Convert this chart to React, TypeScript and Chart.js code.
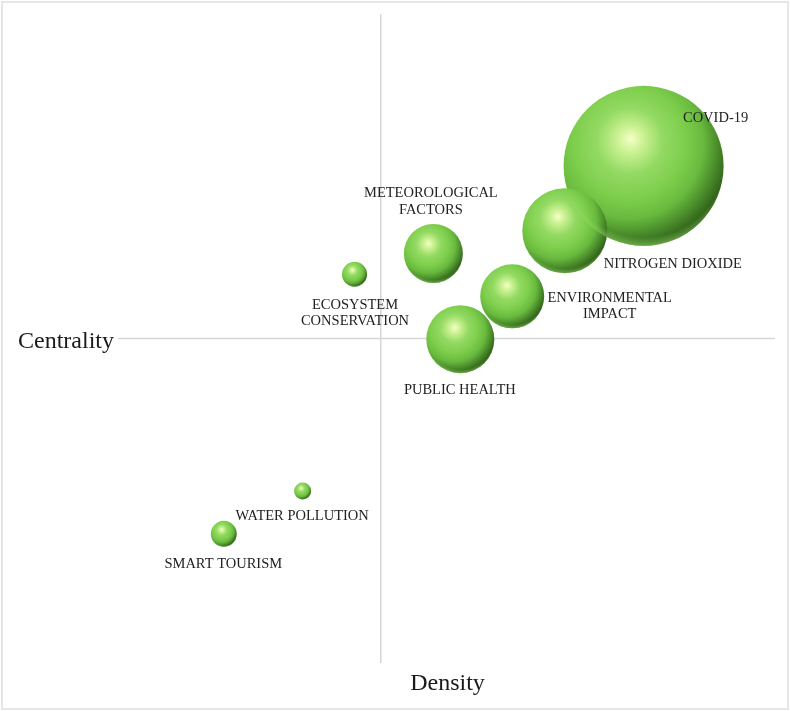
import React, { useEffect, useRef } from "react";
import { Chart, registerables } from "chart.js";

Chart.register(...registerables);

// ---- data ----
const themes = [
  "COVID-19",
  "NITROGEN DIOXIDE",
  "METEOROLOGICAL\nFACTORS",
  "ECOSYSTEM\nCONSERVATION",
  "ENVIRONMENTAL\nIMPACT",
  "PUBLIC HEALTH",
  "WATER POLLUTION",
  "SMART TOURISM",
];
const density = [4.0, 2.8, 0.8, -0.4, 2.0, 1.21, -1.19, -2.39];
const centrality = [2.66, 1.66, 1.31, 0.99, 0.65, -0.01, -2.35, -3.01];
const bubbleSize = [80, 42.5, 29.5, 12.5, 32, 34, 8.5, 13];

// label placement relative to each bubble (px)
const labelOffsets: [number, number][] = [
  [72, -48],
  [108, 33.5],
  [-2.5, -52],
  [0.5, 39],
  [97.5, 10],
  [-0.5, 51.5],
  [-0.5, 25],
  [-0.5, 30],
];

const SERIF = '"Liberation Serif", "Times New Roman", Times, serif';

const sphereFill = (ctx: any) => {
  const chart = ctx.chart;
  const raw = ctx.raw;
  const fallback = "#7fd24c";
  if (!raw || !chart.scales || !chart.scales.x || !chart.scales.y) return fallback;
  const cx = chart.scales.x.getPixelForValue(raw.x);
  const cy = chart.scales.y.getPixelForValue(raw.y);
  const r = raw.r;
  if (![cx, cy, r].every((v) => Number.isFinite(v))) return fallback;
  const g = chart.ctx.createRadialGradient(
    cx - 0.16 * r,
    cy - 0.34 * r,
    0,
    cx - 0.2 * r,
    cy - 0.25 * r,
    r * 1.3
  );
  g.addColorStop(0, "#f5ffc8");
  g.addColorStop(0.12, "#cdf294");
  g.addColorStop(0.32, "#93da63");
  g.addColorStop(0.55, "#7dcd4c");
  g.addColorStop(0.72, "#68b93e");
  g.addColorStop(0.85, "#4c8f2c");
  g.addColorStop(1, "#2d5c17");
  return g;
};

const quadrantPlugin = {
  id: "quadrant",
  beforeDatasetsDraw(chart: any) {
    const { ctx, chartArea, scales } = chart;
    const x0 = scales.x.getPixelForValue(0);
    const y0 = scales.y.getPixelForValue(0);
    ctx.save();
    ctx.strokeStyle = "#d6d6d6";
    ctx.lineWidth = 1.5;
    ctx.beginPath();
    ctx.moveTo(chartArea.left, y0);
    ctx.lineTo(chartArea.right, y0);
    ctx.moveTo(x0, chartArea.top);
    ctx.lineTo(x0, chartArea.bottom);
    ctx.stroke();
    // outer frame
    ctx.strokeStyle = "#e6e6e6";
    ctx.lineWidth = 2;
    ctx.strokeRect(2, 2, chart.width - 4, chart.height - 4);
    // axis titles
    ctx.fillStyle = "#1a1a1a";
    ctx.font = `24px ${SERIF}`;
    ctx.textBaseline = "alphabetic";
    ctx.textAlign = "left";
    ctx.fillText("Centrality", 18, 348);
    ctx.textAlign = "center";
    ctx.fillText("Density", 447.5, 690);
    ctx.restore();
  },
  afterDatasetsDraw(chart: any) {
    const { ctx } = chart;
    const meta = chart.getDatasetMeta(0);
    ctx.save();
    // soft reflected rim on the lower edge of each sphere
    meta.data.forEach((el: any) => {
      const r = el.options.radius;
      const cx = el.x;
      const cy = el.y;
      ctx.save();
      ctx.beginPath();
      ctx.arc(cx, cy, r, 0, Math.PI * 2);
      ctx.clip();
      const g = ctx.createRadialGradient(cx, cy - 0.15 * r, 0.85 * r, cx, cy - 0.15 * r, 1.2 * r);
      g.addColorStop(0, "rgba(150,225,105,0)");
      g.addColorStop(0.55, "rgba(150,225,105,0)");
      g.addColorStop(0.86, "rgba(150,225,105,0.55)");
      g.addColorStop(1, "rgba(150,225,105,0.2)");
      ctx.fillStyle = g;
      ctx.fillRect(cx - r, cy - r, 2 * r, 2 * r);
      ctx.restore();
    });
    ctx.font = `14.5px ${SERIF}`;
    ctx.fillStyle = "#222222";
    ctx.textAlign = "center";
    ctx.textBaseline = "middle";
    meta.data.forEach((el: any, i: number) => {
      const lines = themes[i].split("\n");
      const [dx, dy] = labelOffsets[i];
      const lh = 16.5;
      const startY = el.y + dy - ((lines.length - 1) * lh) / 2;
      lines.forEach((ln, k) => {
        ctx.fillText(ln, el.x + dx, startY + k * lh);
      });
    });
    ctx.restore();
  },
};

export default function App() {
  const ref = useRef<HTMLCanvasElement | null>(null);
  useEffect(() => {
    document.body.style.margin = "0";
    if (!ref.current) return;
    const chart = new Chart(ref.current, {
      type: "bubble",
      data: {
        datasets: [
          {
            label: "Themes",
            data: themes.map((_, i) => ({
              x: density[i],
              y: centrality[i],
              r: bubbleSize[i],
            })),
            backgroundColor: sphereFill,
            borderWidth: 0,
            clip: false,
          },
        ],
      },
      options: {
        responsive: false,
        animation: false,
        layout: {
          autoPadding: false,
          padding: { left: 118, right: 15, top: 14, bottom: 48 },
        },
        plugins: {
          legend: { display: false },
          tooltip: { enabled: false },
        },
        scales: {
          x: { type: "linear", min: -4, max: 6, display: false },
          y: { type: "linear", min: -5, max: 5, display: false },
        },
      },
      plugins: [quadrantPlugin],
    });
    return () => chart.destroy();
  }, []);
  return (
    <div style={{ width: 790, height: 711, background: "#fff" }}>
      <canvas ref={ref} width={790} height={711} style={{ display: "block" }} />
    </div>
  );
}
